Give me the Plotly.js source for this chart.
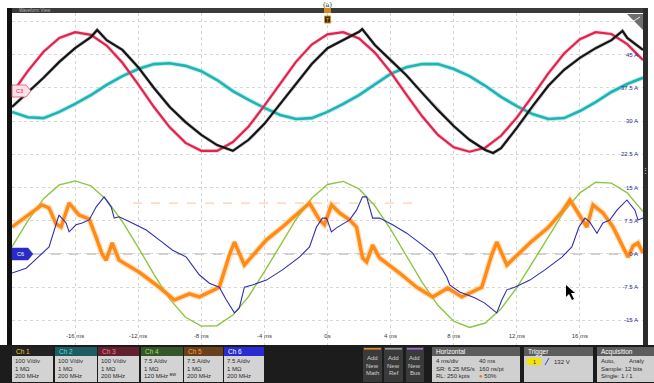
<!DOCTYPE html>
<html><head><meta charset="utf-8">
<script src="https://cdn.plot.ly/plotly-3.0.1.min.js"></script>
<style>html,body{margin:0;padding:0;background:#fff;overflow:hidden}#chart{width:654px;height:383px}</style>
</head><body><div id="chart"></div>
<script>
// ---- data (time in ms, values on the Ch6 screen scale, A) ----
const timeMs = [-20,-19,-18,-17,-16,-15,-14,-13,-12,-11,-10,-9,-8,-7,-6,-5,-4,-3,-2,-1,0,1,2,3,4,5,6,7,8,9,10,11,12,13,14,15,16,17,18,19,20];
const ch3Red = [36.3,41.3,45.7,48.8,50.1,49.5,47.1,43.2,38.3,33.2,28.6,25.1,23.3,23.3,25.3,28.8,33.5,38.6,43.4,47.3,49.6,50.1,48.7,45.5,41.1,36.0,31.1,26.9,24.1,23.1,24.0,26.7,30.8,35.7,40.8,45.3,48.5,50.1,49.7,47.4,43.8];
const ch2Cyan = [32.1,30.9,30.7,32.1,33.9,35.9,38.2,40.2,41.8,42.9,43.1,42.5,41.3,39.3,36.8,34.8,33.0,31.4,30.5,30.7,32.1,33.9,35.9,38.4,40.7,42.2,42.9,42.9,41.8,40.2,38.0,35.5,33.4,31.6,30.5,30.7,32.3,34.3,36.6,38.4,39.8];
const ch4Green = [1.6,7.5,12.5,15.6,16.5,15.4,12.2,7.3,1.5,-4.6,-10.2,-14.3,-16.3,-16.2,-13.8,-9.6,-4.0,2.0,7.8,12.6,15.7,16.4,14.7,10.9,5.6,-0.4,-6.4,-11.6,-15.2,-16.6,-15.6,-12.4,-7.6,-1.9,4.0,9.6,13.8,16.2,16.0,13.8,9.6];
const ch1BlackT = [-20,-19,-18,-17,-16,-15,-14.6,-14,-13,-12,-11,-10,-9,-8,-7,-6,-5,-4,-3,-2,-1,0,1,2,2.2,3,4,5,6,7,8,9,10,10.5,11,12,13,14,15,16,17,18,18.7,19,20];
const ch1Black = [33.2,36.4,39.8,43.4,46.5,49.0,50.6,48.3,46.1,42.2,37.5,33.2,29.8,26.9,24.6,23.3,25.8,29.4,33.9,38.4,42.9,46.5,48.3,50.2,50.8,47.2,43.8,40.4,36.4,32.5,28.9,25.8,23.5,22.8,23.9,28.5,33.4,38.0,41.6,44.3,46.5,48.3,50.4,48.8,46.1];
const ch5OrangeT = [-20.0,-18.73,-18.10,-17.65,-17.21,-16.89,-16.38,-15.75,-15.11,-14.67,-14.29,-14.03,-13.65,-13.21,-11.94,-10.67,-9.71,-8.76,-8.13,-6.86,-6.22,-5.90,-5.27,-3.87,-2.86,-1.78,-1.14,-0.51,-0.19,0.25,0.76,1.40,1.84,2.22,2.48,2.86,3.30,4.57,5.65,6.67,7.62,8.51,9.78,10.41,10.73,11.37,12.83,13.97,14.86,15.37,16.0,16.44,16.83,17.46,18.10,18.73,19.05,19.37,19.68,20.0];
const ch5Orange = [6.1,9.3,11.1,10.4,6.8,6.1,11.5,8.8,7.9,3.8,0,-1.4,2.5,-1.4,-4.1,-7.5,-10.4,-9.0,-9.7,-7.5,-0.2,2.7,-2.5,3.2,6.1,9.5,11.5,7.7,6.6,11.1,9.3,7.7,6.1,-0.9,-1.8,2.0,-0.9,-4.3,-7.5,-9.7,-7.7,-9.7,-7.5,-0.2,2.7,-2.5,2.5,5.9,9.5,12.2,8.4,6.1,11.1,9.3,6.1,1.6,-0.7,1.8,2.5,0.2];
const ch6BlueT = [-20.0,-19.11,-18.73,-18.10,-17.65,-17.46,-17.14,-17.02,-16.57,-16.38,-15.94,-15.56,-15.11,-14.67,-14.16,-13.71,-13.52,-13.21,-12.38,-11.49,-10.67,-9.84,-8.95,-8.13,-7.49,-6.86,-6.41,-5.90,-5.59,-5.27,-4.76,-3.87,-2.86,-1.78,-1.14,-0.70,-0.32,-0.06,0.25,0.57,1.40,1.84,2.22,2.48,2.86,3.30,4.13,5.02,5.84,6.67,7.56,7.75,8.38,9.33,9.97,10.73,11.05,11.37,11.87,12.83,13.78,14.86,15.49,15.94,16.32,16.63,17.08,17.46,17.90,18.35,18.98,19.49,19.68,20.0];
const ch6Blue = [-4.3,-3.2,-2.0,0.2,1.6,3.8,7.7,8.8,7.0,5.0,6.6,7.0,7.7,10.6,12.9,10.6,8.1,8.4,7.0,5.4,3.2,0.9,-0.7,-4.7,-6.6,-7.5,-10.4,-13.3,-12.2,-7.5,-7.0,-5.9,-3.6,-0.7,1.6,6.1,8.1,8.1,5.0,5.9,7.7,9.9,12.9,12.9,8.1,8.1,6.6,4.7,2.5,0.2,-5.2,-7.0,-8.6,-9.9,-11.1,-13.3,-10.4,-8.1,-7.5,-5.9,-3.6,-0.7,1.6,6.1,8.1,7.2,4.7,7.0,7.7,9.9,12.2,9.9,7.7,8.1];
const xTickVals = [-16,-12,-8,-4,0,4,8,12,16];
const xTickText = ['-16 ms','-12 ms','-8 ms','-4 ms','0s','4 ms','8 ms','12 ms','16 ms'];
const yTickVals = [-15,-7.5,0,7.5,15,22.5,30,37.5,45,52.5];
const yTickText = ['-15 A','-7.5 A','0 A','7.5 A','15 A','22.5 A','30 A','37.5 A','45 A',''];
const chLabels = ['Ch 1','Ch 2','Ch 3','Ch 4','Ch 5','Ch 6'];
const chScale = ['100 V/div','100 V/div','100 V/div','7.5 A/div','7.5 A/div','7.5 A/div'];
const chImp = ['1 MΩ','1 MΩ','1 MΩ','1 MΩ','1 MΩ','1 MΩ'];
const chBw = ['200 MHz','200 MHz','200 MHz','120 MHz ᴮᵂ','200 MHz','200 MHz'];

// ---- pixel helpers for the decorations ----
const L=12,T=13,W=631,H=332;
function px(x){return (x-L)/W;}
function py(y){return (T+H-y)/H;}
const shapes=[], ann=[];
const FF='Liberation Sans, Arial, sans-serif';
function rect(x0,y0,x1,y1,fill,lc,lw){shapes.push({type:'rect',xref:'paper',yref:'paper',x0:px(x0),x1:px(x1),y0:py(y1),y1:py(y0),fillcolor:fill,line:{width:lw||0,color:lc||fill},layer:'above'});}
function path(pts,fill,lc,lw,closed){let d='M'+pts.map(p=>px(p[0]).toFixed(5)+','+py(p[1]).toFixed(5)).join(' L')+(closed===false?'':' Z');shapes.push({type:'path',xref:'paper',yref:'paper',path:d,fillcolor:fill,line:{color:lc||fill,width:lw||0},layer:'above'});}
function txt(x,y,s,size,color,anchor,extra){ann.push(Object.assign({xref:'paper',yref:'paper',x:px(x),y:py(y),text:s,showarrow:false,xanchor:anchor||'left',yanchor:'middle',borderpad:0,font:{size:size,color:color,family:FF}},extra||{}));}

// frame
rect(7,8,644,13,'#3b3b3b');
txt(18,10.6,'Waveform View',4.5,'#b8b8b8');
rect(7,8,12,345,'#111111');
rect(643,8,648,345,'#2c2c2c');
txt(645.5,170,'⋮',7,'#dddddd','center');
rect(0,345,654,383,'#1c1c1c');
// (a) caption at top
ann.push({xref:'paper',yref:'paper',x:px(327),y:py(0.5),text:'(a)',showarrow:false,xanchor:'center',yanchor:'top',borderpad:0,font:{size:6.5,color:'#222',family:'DejaVu Serif, serif'}});
// trigger marker
rect(324,8,331,13,'#d9861a');
rect(324.5,16,330.5,23,'#3a2a10','#e0901c',1);
txt(327.5,19.5,'T',5,'#f0b040','center');
// corner icon
path([[627,14],[643,14],[643,30]],'#6f6f6f');
path([[632,22],[640,17]],'#ffffff','#e8e8e8',1,false);
// Ch6 reference and cursor-like dashed line
shapes.push({type:'line',xref:'paper',yref:'y',x0:px(33),x1:1,y0:0,y1:0,line:{color:'#9c9c9c',width:1,dash:'dash'},layer:'below'});
shapes.push({type:'line',xref:'paper',yref:'y',x0:px(133),x1:px(414),y0:11.5,y1:11.5,line:{color:'rgba(232,150,70,0.55)',width:1,dash:'dash'},layer:'below'});
// channel markers
path([[12,85],[26,85],[31,91],[26,97],[12,97]],'#fbe1e7','#e0506e',0.8);
txt(19,91,'C3',5.5,'#c0304e','center');
path([[12,248],[28,248],[33,254],[28,260],[12,260]],'#2a2ac8','#2a2ac8',0.5);
txt(20,254,'C6',5.5,'#ffffff','center');
// mouse pointer
path([[566,285],[566,297],[569,294],[572,300],[574,299],[571,293],[575,293]],'#000000');

// channel boxes
const boxX=[[12,53],[55,97],[98,139],[141,183],[184,223],[224,264]];
const hdrFill=['#222222','#1d5c60','#62202e','#37552a','#68401c','#2a2ad2'];
const hdrText=['#f0d020','#66d8d8','#ff7f98','#a6de64','#ffa24a','#ffffff'];
for(let i=0;i<6;i++){
  const [a,b]=boxX[i];
  rect(a,347,b,356,hdrFill[i]);
  rect(a,356,b,382,'#d3d3d3');
  txt(a+3,351.6,chLabels[i],6.5,hdrText[i]);
  txt(a+2,361,chScale[i],6,'#2a2a2a');
  txt(a+2,368.6,chImp[i],6,'#2a2a2a');
  txt(a+2,376.2,chBw[i],6,'#2a2a2a');
}
// add new boxes
const addX=[[363,382],[384,403],[406,424]], addC=['#e08a2a','#9a9a9a','#9a70d8'], addW=['Math','Ref','Bus'];
for(let i=0;i<3;i++){
  const [a,b]=addX[i]; const m=(a+b)/2;
  rect(a,347,b,382,'#3a3a3a');
  rect(a+1,348,b-1,349.6,addC[i]);
  txt(m,358,'Add',6,'#cfcfcf','center');
  txt(m,365.5,'New',6,'#cfcfcf','center');
  txt(m,373,addW[i],6,'#cfcfcf','center');
}
// horizontal
rect(432,347,520,356,'#5c5c5c'); rect(432,356,520,382,'#d0d0d0');
txt(435,351.6,'Horizontal',6.5,'#ffffff');
txt(435,361,'4 ms/div',6,'#2a2a2a'); txt(478,361,'40 ms',6,'#2a2a2a');
txt(435,368.6,'SR: 6.25 MS/s',6,'#2a2a2a'); txt(478,368.6,'160 ns/pt',6,'#2a2a2a');
txt(435,376.2,'RL: 250 kpts',6,'#2a2a2a'); txt(478,376.2,'<span style="color:#e07b00">●</span> 50%',6,'#2a2a2a');
// trigger
rect(524,347,593,356,'#5c5c5c'); rect(524,356,593,382,'#d0d0d0');
txt(527,351.6,'Trigger',6.5,'#ffffff');
rect(527,358,541,365,'#f4e400');
txt(534,361.5,'1',5.5,'#333','center');
path([[545,365],[549,358]],'#3050c0','#3050c0',1,false);
txt(553,361.5,'132 V',6,'#2a2a2a');
// acquisition
rect(597,347,654,356,'#5c5c5c'); rect(597,356,654,382,'#d0d0d0');
txt(600,351.6,'Acquisition',6.5,'#ffffff');
txt(600,361,'Auto,',6,'#2a2a2a'); txt(628,361,'Analy',6,'#2a2a2a');
txt(600,368.6,'Sample: 12 bits',6,'#2a2a2a');
txt(600,376.2,'Single: 1 / 1',6,'#2a2a2a');

// ---- traces ----
function tr(x,y,color,width,opacity){return {type:'scatter',mode:'lines',x:x,y:y,line:{color:color,width:width},opacity:opacity||1,hoverinfo:'skip',showlegend:false};}
const data=[
  tr(timeMs,ch4Green,'#8dc63f',1.4),
  tr(ch5OrangeT,ch5Orange,'#ffb060',6,0.4),
  tr(ch5OrangeT,ch5Orange,'#ff8a14',3.4),
  tr(ch6BlueT,ch6Blue,'#2e2eb4',1.1),
  tr(timeMs,ch2Cyan,'#5fd0d2',4.5,0.4),
  tr(timeMs,ch2Cyan,'#1fb3b6',2.6),
  tr(timeMs,ch3Red,'#f06a8a',3.6,0.35),
  tr(timeMs,ch3Red,'#e0244f',2.2),
  tr(ch1BlackT,ch1Black,'#555555',3.6,0.3),
  tr(ch1BlackT,ch1Black,'#141414',2.2)
];
const layout={
  width:654,height:383,
  margin:{l:L,r:654-L-W,t:T,b:383-T-H},
  paper_bgcolor:'#ffffff',plot_bgcolor:'#ffffff',
  font:{family:FF},
  showlegend:false,
  xaxis:{range:[-20,20],tickvals:xTickVals,ticktext:xTickText,ticklabelposition:'inside',ticklabelstandoff:3,ticklabeloverflow:'allow',ticks:'',showgrid:true,gridcolor:'#d4d4d4',griddash:'dot',gridwidth:1,zeroline:false,showline:false,tickfont:{size:6,color:'#3a3a3a',family:FF},fixedrange:true},
  yaxis:{range:[-20.56,54.44],side:'right',tickvals:yTickVals,ticktext:yTickText,ticklabelposition:'inside',ticklabelstandoff:2,ticklabeloverflow:'allow',ticks:'',showgrid:true,gridcolor:'#d8d8d8',griddash:'dot',gridwidth:1,zeroline:false,showline:false,tickfont:{size:6,color:'#27279a',family:FF},fixedrange:true},
  shapes:shapes,annotations:ann
};
Plotly.newPlot('chart',data,layout,{displayModeBar:false,staticPlot:true});
</script></body></html>
